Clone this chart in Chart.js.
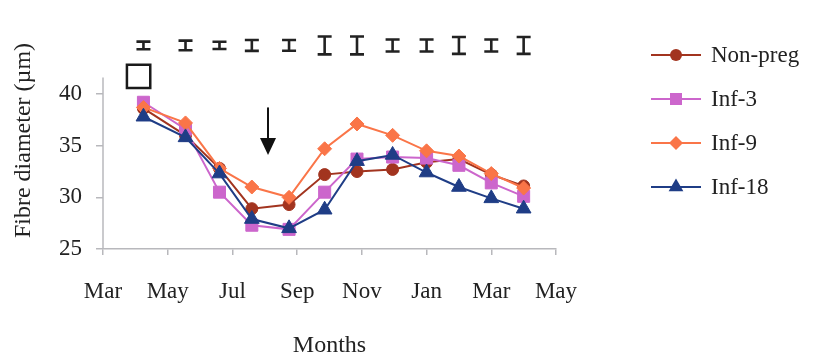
<!DOCTYPE html>
<html>
<head>
<meta charset="utf-8">
<script src="https://cdn.jsdelivr.net/npm/chart.js@4"></script>
<style>
  html, body { margin: 0; padding: 0; background: #fff; }
  #wrap { width: 816px; height: 358px; }
</style>
</head>
<body>
<div id="wrap"><canvas id="fibreChart" width="816" height="358"></canvas></div>
<script>
// month labels every 2 months, starting at Mar
const monthLabels = ["Mar", "May", "Jul", "Sep", "Nov", "Jan", "Mar", "May"];
const yTicks = [25, 30, 35, 40];

// sampling times, in months after the first Mar
const sampleMonths = [1.25, 2.55, 3.6, 4.6, 5.75, 6.85, 7.85, 8.95, 10, 11, 12, 13];

const nonPreg = [38.6, 36.0, 32.8, 28.9, 29.3, 32.2, 32.5, 32.7, 33.4, 33.7, 32.2, 31.1];
const inf3    = [39.2, 36.6, 30.5, 27.3, 26.9, 30.5, 33.7, 33.9, 33.8, 33.1, 31.4, 30.1];
const inf9    = [38.7, 37.2, 32.8, 31.0, 30.0, 34.7, 37.1, 36.0, 34.5, 34.0, 32.3, 30.9];
const inf18   = [37.8, 35.8, 32.3, 27.9, 27.0, 28.8, 33.5, 34.1, 32.4, 31.0, 29.9, 28.9];

// standard error bars shown above the plot
const stdErr = [0.37, 0.47, 0.35, 0.53, 0.52, 0.87, 0.87, 0.58, 0.58, 0.82, 0.58, 0.82];
const errLevel = 44.7;

// annotations (data units)
const boxMark = [{ x: 1.1, y: 41.7 }];
const arrowMark = { x: 5.1, from: 38.7, to: 34.1 };
const axisTop = 41.6;

const FONT = "'Liberation Serif', 'Times New Roman', serif";
const TEXT = "#222";
const AXIS = "#b8b8bc";

function toPoints(vals) {
    return sampleMonths.map((m, i) => ({ x: m, y: vals[i] }));
}

const series = [
    { label: "Non-preg", data: nonPreg, color: "#a2341f", style: "circle", r: 6, order: 4 },
    { label: "Inf-3", data: inf3, color: "#cc66cc", style: "rect", r: 8.5, order: 3 },
    { label: "Inf-9", data: inf9, color: "#fa7548", style: "rectRot", r: 7, order: 2 },
    { label: "Inf-18", data: inf18, color: "#1f3d86", style: "triangle", r: 8.5, order: 1 }
];

function drawMarker(ctx, style, x, y, r) {
    ctx.beginPath();
    if (style === "circle") {
        ctx.arc(x, y, r, 0, Math.PI * 2);
    } else if (style === "rect") {
        const s = r * Math.SQRT1_2;
        ctx.rect(x - s, y - s, 2 * s, 2 * s);
    } else if (style === "rectRot") {
        ctx.moveTo(x, y - r); ctx.lineTo(x + r, y); ctx.lineTo(x, y + r); ctx.lineTo(x - r, y);
        ctx.closePath();
    } else {
        const a = 2 * Math.PI / 3;
        ctx.moveTo(x, y - r);
        ctx.lineTo(x + Math.sin(a) * r, y - Math.cos(a) * r);
        ctx.lineTo(x + Math.sin(2 * a) * r, y - Math.cos(2 * a) * r);
        ctx.closePath();
    }
    ctx.fill();
}

const extras = {
    id: "extras",
    afterDatasetsDraw(chart) {
        const ctx = chart.ctx;
        const xs = chart.scales.x;
        const ys = chart.scales.y;
        ctx.save();

        // y axis line, only up to axisTop
        ctx.strokeStyle = AXIS;
        ctx.lineWidth = 1.5;
        ctx.beginPath();
        ctx.moveTo(xs.left, ys.getPixelForValue(axisTop));
        ctx.lineTo(xs.left, ys.getPixelForValue(25));
        ctx.stroke();

        // error bars
        ctx.strokeStyle = "#222";
        ctx.lineWidth = 2.6;
        sampleMonths.forEach((m, i) => {
            const x = xs.getPixelForValue(m);
            const y1 = ys.getPixelForValue(errLevel + stdErr[i]);
            const y2 = ys.getPixelForValue(errLevel - stdErr[i]);
            ctx.beginPath();
            ctx.moveTo(x, y1); ctx.lineTo(x, y2);
            ctx.moveTo(x - 7, y1); ctx.lineTo(x + 7, y1);
            ctx.moveTo(x - 7, y2); ctx.lineTo(x + 7, y2);
            ctx.stroke();
        });

        // arrow
        const ax = xs.getPixelForValue(arrowMark.x);
        const aTop = ys.getPixelForValue(arrowMark.from);
        const aTip = ys.getPixelForValue(arrowMark.to);
        ctx.strokeStyle = "#111";
        ctx.fillStyle = "#111";
        ctx.lineWidth = 2;
        ctx.beginPath();
        ctx.moveTo(ax, aTop); ctx.lineTo(ax, aTip - 10);
        ctx.stroke();
        ctx.beginPath();
        ctx.moveTo(ax - 8, aTip - 17); ctx.lineTo(ax + 8, aTip - 17); ctx.lineTo(ax, aTip);
        ctx.closePath();
        ctx.fill();

        // legend
        ctx.font = "23px " + FONT;
        ctx.textBaseline = "middle";
        ctx.textAlign = "left";
        series.forEach((s, i) => {
            const y = 55 + i * 44;
            ctx.strokeStyle = s.color;
            ctx.fillStyle = s.color;
            ctx.lineWidth = 2;
            ctx.beginPath();
            ctx.moveTo(651, y); ctx.lineTo(701, y);
            ctx.stroke();
            drawMarker(ctx, s.style, 676, y, s.r);
            ctx.fillStyle = TEXT;
            ctx.fillText(s.label, 711, y + 1);
        });
        ctx.restore();
    }
};

const datasets = series.map(s => ({
    label: s.label,
    data: toPoints(s.data),
    borderColor: s.color,
    backgroundColor: s.color,
    borderWidth: 2,
    pointStyle: s.style,
    pointRadius: s.r,
    pointBorderWidth: 1,
    tension: 0,
    order: s.order
}));

datasets.push({
    label: "box",
    type: "scatter",
    data: boxMark,
    showLine: false,
    pointStyle: "rect",
    pointRadius: 16.5,
    borderColor: "#1a1a1a",
    backgroundColor: "rgba(0,0,0,0)",
    pointBorderWidth: 2.5,
    order: 0
});

new Chart(document.getElementById("fibreChart"), {
    type: "line",
    data: { datasets: datasets },
    plugins: [extras],
    options: {
        responsive: false,
        animation: false,
        devicePixelRatio: 1,
        layout: { padding: { left: 12, right: 260, top: 32, bottom: 0 } },
        plugins: { legend: { display: false }, tooltip: { enabled: false } },
        scales: {
            x: {
                type: "linear",
                min: 0,
                max: 14,
                afterFit: scale => { scale.height = 109; },
                ticks: {
                    stepSize: 2,
                    padding: 23,
                    color: TEXT,
                    font: { family: FONT, size: 23 },
                    callback: v => monthLabels[v / 2]
                },
                grid: { drawOnChartArea: false, tickLength: 6, color: AXIS, lineWidth: 1.5 },
                border: { color: AXIS, width: 1.5 },
                title: {
                    display: true,
                    text: "Months",
                    color: TEXT,
                    font: { family: FONT, size: 24, lineHeight: 1 },
                    padding: { top: 0, bottom: 0 }
                }
            },
            y: {
                min: 25,
                max: 46,
                afterFit: scale => { scale.width = 91; },
                afterBuildTicks: scale => { scale.ticks = yTicks.map(v => ({ value: v })); },
                ticks: {
                    padding: 14,
                    color: TEXT,
                    font: { family: FONT, size: 23 }
                },
                grid: { drawOnChartArea: false, tickLength: 7, color: AXIS, lineWidth: 1.5 },
                border: { display: false },
                title: {
                    display: true,
                    text: "Fibre diameter (µm)",
                    color: TEXT,
                    font: { family: FONT, size: 24, lineHeight: 1 },
                    padding: { top: 0, bottom: 0 }
                }
            }
        }
    }
});
</script>
</body>
</html>
